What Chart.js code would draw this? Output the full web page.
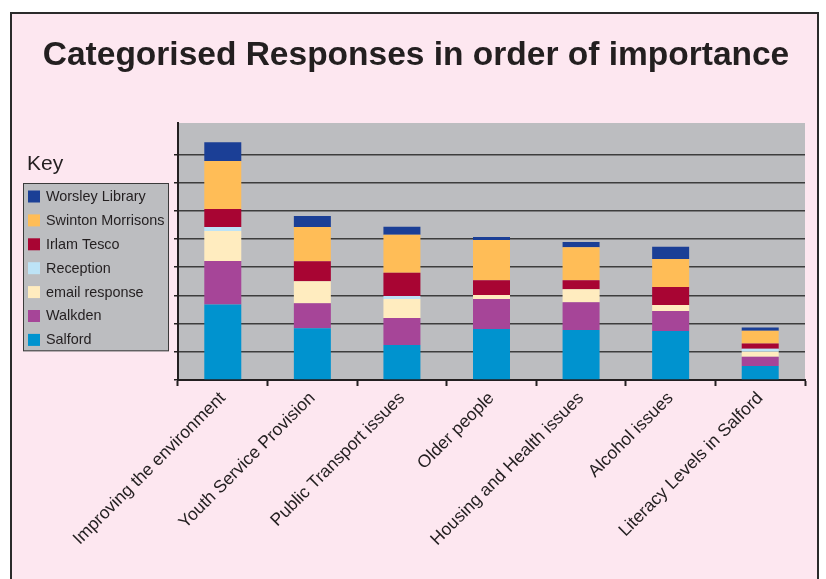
<!DOCTYPE html>
<html>
<head>
<meta charset="utf-8">
<title>Categorised Responses in order of importance</title>
<script src="https://cdn.jsdelivr.net/npm/chart.js@4.4.1/dist/chart.umd.min.js"></script>
<style>
  html, body { margin: 0; padding: 0; background: #fff; overflow: hidden; }
  #frame {
    position: absolute; left: 10px; top: 12px;
    width: 805px; height: 620px;
    border: 2px solid #2b2b2b; background: #fde7f0;
  }
  #responsesChart { position: absolute; left: 0; top: 0; }
</style>
</head>
<body>
<div id="frame"></div>
<canvas id="responsesChart" width="826" height="579"></canvas>
<script>
  const TITLE = "Categorised Responses in order of importance";
  const LEGEND_TITLE = "Key";

  const CATEGORIES = [
    "Improving the environment",
    "Youth Service Provision",
    "Public Transport issues",
    "Older people",
    "Housing and Health issues",
    "Alcohol issues",
    "Literacy Levels in Salford"
  ];

  // stacked bottom -> top
  const SERIES_NAMES = [
    "Salford",
    "Walkden",
    "email response",
    "Reception",
    "Irlam Tesco",
    "Swinton Morrisons",
    "Worsley Library"
  ];

  const SALFORD   = [26.8, 18.3, 12.4, 18.1, 17.7, 17.4, 5.0];
  const WALKDEN   = [15.4,  8.9,  9.6, 10.6,  9.9,  7.1, 3.2];
  const EMAIL     = [10.6,  7.8,  6.7,  1.4,  4.6,  2.1, 1.8];
  const RECEPTION = [ 1.4,  0,    1.1,  0,    0,    0,   1.1];
  const IRLAM     = [ 6.4,  7.1,  8.2,  5.3,  3.2,  6.4, 1.8];
  const SWINTON   = [17.0, 12.1, 13.5, 14.2, 11.7,  9.9, 4.6];
  const WORSLEY   = [ 6.7,  3.9,  2.8,  1.1,  1.8,  4.3, 1.1];

  const Y_MAX = 91.1;
  const Y_STEP = 10;

  const COLORS = [
    "#0093cf", // Salford
    "#a64598", // Walkden
    "#ffecbf", // email response
    "#bde3f6", // Reception
    "#a80533", // Irlam Tesco
    "#ffbd57", // Swinton Morrisons
    "#1b3f96"  // Worsley Library
  ];

  const FONT = "'Liberation Sans', Arial, Helvetica, sans-serif";
  const INK = "#231f20";
  const PLOT_BG = "#bcbdc0";

  /* ---------- PLUGINS ---------- */

  const plotBackground = {
    id: "plotBackground",
    beforeDraw(chart) {
      const { ctx, chartArea: a } = chart;
      ctx.save();
      ctx.fillStyle = PLOT_BG;
      ctx.fillRect(a.left, a.top, a.right - a.left, a.bottom - a.top);
      ctx.restore();
    }
  };

  // boxed "Key" legend on the left, drawn from the datasets (top of stack first)
  const keyBox = {
    id: "keyBox",
    afterDraw(chart) {
      const ctx = chart.ctx;
      const sets = chart.data.datasets.slice().reverse();
      const x = 23, y = 183, w = 146, rowH = 23.9;
      const h = sets.length * rowH + 1;

      ctx.save();
      ctx.fillStyle = INK;
      ctx.font = "21px " + FONT;
      ctx.textBaseline = "alphabetic";
      ctx.fillText(LEGEND_TITLE, 27, 170);

      ctx.fillStyle = PLOT_BG;
      ctx.fillRect(x, y, w, h);
      ctx.strokeStyle = "#3a3a3a";
      ctx.lineWidth = 1;
      ctx.strokeRect(x + 0.5, y + 0.5, w - 1, h - 1);

      ctx.font = "14.4px " + FONT;
      ctx.textBaseline = "middle";
      sets.forEach((ds, i) => {
        const cy = y + 13.5 + i * rowH;
        ctx.fillStyle = ds.backgroundColor;
        ctx.fillRect(x + 5, cy - 6, 12, 12);
        ctx.fillStyle = INK;
        ctx.fillText(ds.label, x + 23, cy + 0.5);
      });
      ctx.restore();
    }
  };

  /* ---------- CHART ---------- */

  function buildDatasets() {
    const values = [SALFORD, WALKDEN, EMAIL, RECEPTION, IRLAM, SWINTON, WORSLEY];
    return SERIES_NAMES.map((name, i) => ({
      label: name,
      data: values[i],
      backgroundColor: COLORS[i],
      borderWidth: 0,
      categoryPercentage: 1,
      barPercentage: 0.413
    }));
  }

  new Chart(document.getElementById("responsesChart"), {
    type: "bar",
    data: {
      labels: CATEGORIES,
      datasets: buildDatasets()
    },
    options: {
      responsive: false,
      animation: false,
      layout: { padding: { left: 27, right: 21, top: 0, bottom: 0 } },
      plugins: {
        legend: { display: false },
        tooltip: { enabled: false },
        title: {
          display: true,
          text: TITLE,
          color: INK,
          font: { family: FONT, size: 33.5, weight: "bold", lineHeight: 1.2 },
          padding: { top: 35.5, bottom: 47.3 }
        }
      },
      scales: {
        x: {
          stacked: true,
          grid: {
            offset: true,
            drawOnChartArea: false,
            drawTicks: true,
            tickLength: 6,
            tickWidth: 2,
            tickColor: INK
          },
          border: { display: true, color: INK, width: 2 },
          ticks: {
            color: INK,
            font: { family: FONT, size: 17.5 },
            minRotation: 45,
            maxRotation: 45,
            autoSkip: false,
            padding: 2
          },
          afterFit(scale) { scale.height = 199; }
        },
        y: {
          stacked: true,
          min: 0,
          max: Y_MAX,
          ticks: { display: false, stepSize: Y_STEP },
          afterBuildTicks(scale) {
            scale.ticks = scale.ticks.filter(t => t.value % Y_STEP === 0);
          },
          grid: {
            color: "#3d3d3d",
            lineWidth: 1.5,
            drawTicks: true,
            tickLength: 4,
            tickColor: INK
          },
          border: { display: true, color: INK, width: 2 },
          afterFit(scale) { scale.width = 151; }
        }
      }
    },
    plugins: [plotBackground, keyBox]
  });
</script>
</body>
</html>
